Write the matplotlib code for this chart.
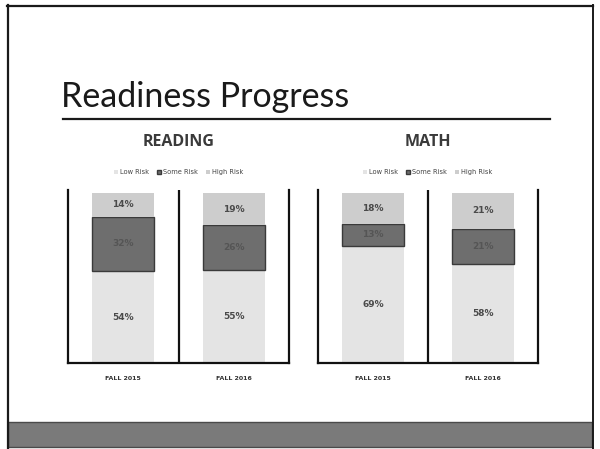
import matplotlib
matplotlib.use("Agg")
import matplotlib.pyplot as plt
from matplotlib.patches import Rectangle
from matplotlib.lines import Line2D

categories = ["FALL 2015", "FALL 2016"]
risk_levels = ["Low Risk", "Some Risk", "High Risk"]
reading_low = [54, 55]
reading_some = [32, 26]
reading_high = [14, 19]
math_low = [69, 58]
math_some = [13, 21]
math_high = [18, 21]

colors = {"Low Risk": "#e4e4e4", "Some Risk": "#6e6e6e", "High Risk": "#cdcdcd"}
W, H = 600, 449
fig = plt.figure(figsize=(6, 4.49), dpi=100)
fig.patch.set_facecolor("white")

def fx(x):
    return x / W

def fy(y):
    return 1 - y / H

# slide frame
fig.add_artist(Line2D([fx(7.5), fx(7.5)], [fy(5), fy(449)], color="#1a1a1a", lw=1.6))
fig.add_artist(Line2D([fx(7), fx(593)], [fy(5.5), fy(5.5)], color="#1a1a1a", lw=1.6))
fig.add_artist(Line2D([fx(592.5), fx(592.5)], [fy(5), fy(449)], color="#1a1a1a", lw=1.4))
fig.add_artist(Rectangle((fx(8), fy(447)), fx(584), (447 - 422) / H, facecolor="#7a7a7a",
                         edgecolor="#4a4a4a", lw=1.0))

# title
fig.text(fx(61), fy(107), "Readiness Progress", fontsize=24.5, family="Lato",
         fontweight="normal", color="#1a1a1a", va="baseline", ha="left")
fig.add_artist(Line2D([fx(63), fx(550)], [fy(119.5), fy(119.5)], color="#1a1a1a", lw=1.6))

def panel(left, right, title, low, some, high):
    top, bottom = 190, 363
    ax = fig.add_axes([fx(left), fy(bottom), fx(right - left), (bottom - top) / H])
    x = list(range(len(categories)))
    bw = 0.56
    ax.bar(x, low, bw, color=colors["Low Risk"], label="Low Risk", zorder=2)
    ax.bar(x, some, bw, bottom=low, color=colors["Some Risk"], edgecolor="#3a3a3a",
           lw=1.0, label="Some Risk", zorder=2)
    b2 = [a + b for a, b in zip(low, some)]
    ax.bar(x, high, bw, bottom=b2, color=colors["High Risk"], label="High Risk", zorder=2)
    for i in x:
        ax.text(i, low[i] / 2, f"{low[i]}%", ha="center", va="center", fontsize=6.5,
                color="#4a4a4a", fontweight="bold", zorder=3)
        ax.text(i, low[i] + some[i] / 2, f"{some[i]}%", ha="center", va="center", fontsize=6.5,
                color="#555555", fontweight="bold", zorder=3)
        ax.text(i, b2[i] + high[i] / 2, f"{high[i]}%", ha="center", va="center", fontsize=6.5,
                color="#4a4a4a", fontweight="bold", zorder=3)
    ax.set_xlim(-0.5, 1.5)
    ax.set_ylim(0, 100 * 173 / 170)
    ax.axvline(0.5, color="#111111", lw=1.6, zorder=4)
    for s in ["left", "bottom", "right"]:
        ax.spines[s].set_linewidth(1.6)
        ax.spines[s].set_color("#111111")
    ax.spines["top"].set_visible(False)
    ax.set_yticks([])
    ax.set_xticks(x)
    ax.set_xticklabels(categories, fontsize=4.5, fontweight="bold", color="#333333")
    ax.tick_params(axis="x", length=0, pad=9)
    cx = (left + right) / 2
    fig.text(fx(cx), fy(142), title, ha="center", va="center", fontsize=11.5,
             fontweight="bold", color="#3a3a3a", family="Open Sans")
    ax.legend(loc="center", bbox_to_anchor=(0.5, (363 - 172) / 173), ncol=3, frameon=False,
              fontsize=4.8, handlelength=0.6, handleheight=0.6, handletextpad=0.3,
              columnspacing=1.2, labelcolor="#444444")
    return ax

panel(68, 289, "READING", reading_low, reading_some, reading_high)
panel(318, 538, "MATH", math_low, math_some, math_high)

fig.savefig("out.png", dpi=100)
